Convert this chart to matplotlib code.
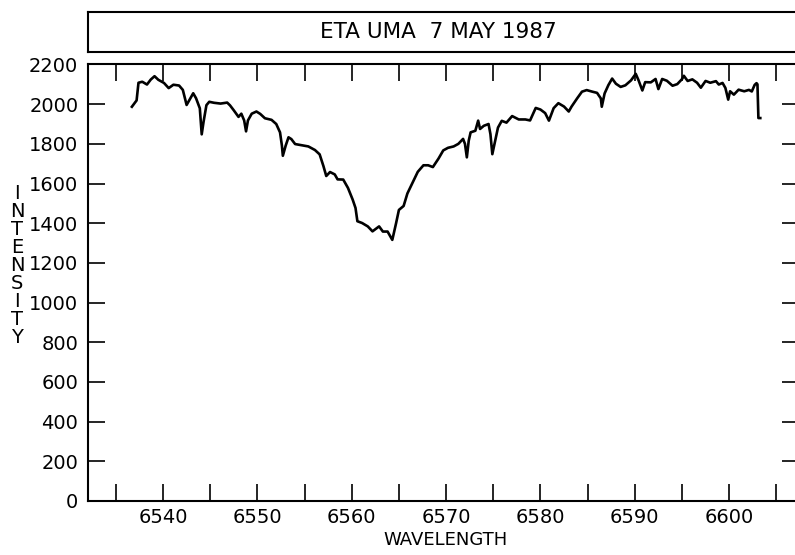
import matplotlib.pyplot as plt

# spectrum (wavelength in A, intensity in counts)
wavelength = [
    6536.7, 6537.2, 6537.4, 6537.8, 6538.3, 6538.7, 6539.1, 6539.5, 6540.1, 6540.6,
    6541.1, 6541.7, 6542.1, 6542.5, 6542.9, 6543.2, 6543.5, 6543.9, 6544.1, 6544.3,
    6544.6, 6544.9, 6545.4, 6546.1, 6546.8, 6547.1, 6547.5, 6548.0, 6548.3, 6548.6,
    6548.8, 6549.0, 6549.4, 6549.9, 6550.3, 6550.8, 6551.5, 6552.0, 6552.4, 6552.6,
    6552.7, 6553.0, 6553.3, 6553.6, 6554.0, 6554.7, 6555.4, 6556.1, 6556.6, 6557.0,
    6557.3, 6557.7, 6558.2, 6558.5, 6559.1, 6559.6, 6560.1, 6560.4, 6560.6, 6561.1,
    6561.7, 6562.2, 6562.9, 6563.3, 6563.8, 6564.3, 6564.7, 6565.0, 6565.5, 6565.9,
    6566.5, 6567.0, 6567.6, 6568.1, 6568.6, 6569.2, 6569.7, 6570.2, 6570.8, 6571.3,
    6571.8, 6572.0, 6572.2, 6572.4, 6572.6, 6573.1, 6573.4, 6573.6, 6574.0, 6574.5,
    6574.7, 6574.9, 6575.2, 6575.5, 6575.9, 6576.4, 6577.0, 6577.7, 6578.4, 6578.9,
    6579.5, 6580.0, 6580.5, 6580.9, 6581.4, 6581.9, 6582.5, 6583.0, 6583.3, 6583.9,
    6584.4, 6584.9, 6585.5, 6586.0, 6586.4, 6586.5, 6586.8, 6587.2, 6587.6, 6588.0,
    6588.5, 6589.0, 6589.6, 6590.1, 6590.4, 6590.8, 6591.1, 6591.7, 6592.2, 6592.5,
    6592.9, 6593.4, 6594.0, 6594.5, 6595.0, 6595.2, 6595.6, 6596.1, 6596.6, 6597.0,
    6597.5, 6598.0, 6598.6, 6598.9, 6599.3, 6599.6, 6599.9, 6600.1, 6600.5, 6601.0,
    6601.6, 6602.1, 6602.4, 6602.7, 6602.9, 6603.0, 6603.1, 6603.3,
]
intensity = [
    1987, 2019, 2108, 2113, 2099, 2124, 2141, 2123, 2107, 2081,
    2098, 2094, 2072, 1996, 2030, 2055, 2030, 1979, 1848, 1912,
    1995, 2012, 2007, 2003, 2008, 1994, 1969, 1936, 1952, 1918,
    1863, 1918, 1952, 1963, 1951, 1929, 1921, 1900, 1858, 1791,
    1740, 1791, 1833, 1824, 1799, 1793, 1787, 1769, 1747, 1688,
    1638, 1658, 1646, 1621, 1620, 1578, 1519, 1477, 1410, 1401,
    1384, 1359, 1384, 1358, 1358, 1316, 1400, 1467, 1487, 1550,
    1609, 1659, 1692, 1692, 1683, 1726, 1767, 1780, 1787, 1800,
    1825, 1800, 1732, 1816, 1858, 1866, 1917, 1875, 1891, 1900,
    1849, 1748, 1815, 1882, 1916, 1907, 1940, 1923, 1923, 1918,
    1981, 1973, 1955, 1917, 1980, 2005, 1988, 1963, 1988, 2030,
    2063, 2071, 2063, 2057, 2029, 1987, 2054, 2096, 2129, 2103,
    2087, 2095, 2120, 2153, 2120, 2069, 2111, 2110, 2127, 2076,
    2127, 2118, 2093, 2101, 2126, 2143, 2117, 2125, 2108, 2083,
    2117, 2108, 2116, 2099, 2107, 2082, 2023, 2065, 2048, 2073,
    2065, 2072, 2064, 2097, 2106, 2100, 1930, 1930,
]

x_ticks = list(range(6535, 6606, 5))
x_labels = [str(t) if t % 10 == 0 else "" for t in x_ticks]
y_ticks = list(range(0, 2201, 200))

title = "ETA UMA  7 MAY 1987"

plt.rcParams['font.family'] = ['DejaVu Sans']

fig = plt.figure(figsize=(7.95, 5.55), dpi=100)

# main plot, right edge runs just past the figure like the scan
ax = fig.add_axes([0.1107, 0.0973, 0.8943, 0.7865])
ax.plot(wavelength, intensity, color='black', lw=1.9)
ax.set_xlim(6532.05, 6607.4)
ax.set_ylim(0, 2200)
ax.set_xticks(x_ticks)
ax.set_xticklabels(x_labels)
ax.set_yticks(y_ticks)
ax.tick_params(direction='in', length=12, width=1.2, labelsize=14,
               top=True, right=True, labeltop=False, labelright=False)
ax.tick_params(axis='y', pad=7)
ax.tick_params(axis='x', pad=5)
for s in ax.spines.values():
    s.set_linewidth(1.5)

# title box above the plot
tax = fig.add_axes([0.1107, 0.9072, 0.8943, 0.0712])
tax.set_xticks([])
tax.set_yticks([])
for s in tax.spines.values():
    s.set_linewidth(1.5)
fig.text(0.552, 0.9425, title, ha='center', va='center', fontsize=15.5)

fig.text(0.56, 0.027, "WAVELENGTH", ha='center', va='center', fontsize=13)
fig.text(0.0214, 0.5215, "I\nN\nT\nE\nN\nS\nI\nT\nY", ha='center', va='center',
         fontsize=14, linespacing=0.94)

fig.savefig("out.png", dpi=100)
